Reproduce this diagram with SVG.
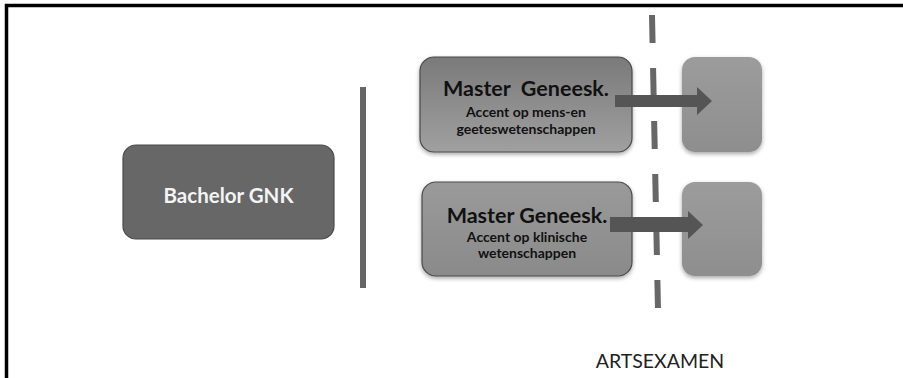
<svg xmlns="http://www.w3.org/2000/svg" width="903" height="378" viewBox="0 0 903 378">
<defs>
<linearGradient id="g1" x1="0" y1="0" x2="0" y2="1">
<stop offset="0" stop-color="#7a7a7a"/>
<stop offset="1" stop-color="#a0a0a0"/>
</linearGradient>
<linearGradient id="g2" x1="0" y1="0" x2="0" y2="1">
<stop offset="0" stop-color="#9a9a9a"/>
<stop offset="1" stop-color="#8a8a8a"/>
</linearGradient>
<linearGradient id="g3" x1="0" y1="0" x2="0" y2="1">
<stop offset="0" stop-color="#9c9c9c"/>
<stop offset="1" stop-color="#8e8e8e"/>
</linearGradient>
<filter id="sh" x="-10%" y="-10%" width="120%" height="130%">
<feGaussianBlur in="SourceAlpha" stdDeviation="2"/>
<feOffset dy="2"/>
<feComponentTransfer><feFuncA type="linear" slope="0.35"/></feComponentTransfer>
<feMerge><feMergeNode/><feMergeNode in="SourceGraphic"/></feMerge>
</filter>
</defs>
<style>
.t{font-family:Lato,"Open Sans","Liberation Sans",sans-serif;font-weight:bold;text-anchor:middle}
.big{font-size:21.5px;fill:#111}
.sm{font-size:14px;fill:#111}
.box{stroke:#4a4a4a;stroke-width:1.2}
.arrow{fill:#555}
</style>
<rect x="0" y="0" width="903" height="378" fill="#fff"/>
<path d="M6.5,378 V5.5 H903" fill="none" stroke="#000" stroke-width="3.5"/>

<g id="divider">
<line x1="363" y1="87" x2="363" y2="288" stroke="#666" stroke-width="6"/>
</g>

<g id="bachelor">
<rect class="box" x="123" y="145" width="211" height="94" rx="13" fill="#676767"/>
<text class="t" x="228.5" y="203" font-size="20.5" fill="#f4f4f4">Bachelor GNK</text>
</g>

<g id="master1">
<rect class="box" x="420" y="57" width="212" height="95" rx="14" fill="url(#g1)" filter="url(#sh)"/>
<text class="t big" x="526" y="96" xml:space="preserve">Master  Geneesk.</text>
<text class="t sm" x="526" y="117">Accent op mens-en</text>
<text class="t sm" x="526" y="134">geeteswetenschappen</text>
</g>

<g id="master2">
<rect class="box" x="422" y="182" width="210" height="94" rx="14" fill="url(#g2)" filter="url(#sh)"/>
<text class="t big" x="527" y="223">Master Geneesk.</text>
<text class="t sm" x="527" y="242">Accent op klinische</text>
<text class="t sm" x="527" y="258">wetenschappen</text>
</g>

<g id="box1">
<rect x="682" y="57" width="80" height="95" rx="13" fill="url(#g3)" filter="url(#sh)"/>
</g>
<g id="box2">
<rect x="682" y="182" width="80" height="94" rx="13" fill="url(#g3)" filter="url(#sh)"/>
</g>

<g id="connectors">
<line x1="652" y1="15" x2="658" y2="310" stroke="#676767" stroke-width="6" stroke-dasharray="28 25"/>
<polygon class="arrow" points="615,95 697,95 697,87 712,101 697,115 697,107 615,107"/>
<polygon class="arrow" points="610,217 688,217 688,211 703,225 688,239 688,232 610,232"/>
</g>

<g id="artsexamen">
<text x="660" y="368" font-family="Lato,'Open Sans','Liberation Sans',sans-serif" font-size="19.5" fill="#222" text-anchor="middle">ARTSEXAMEN</text>
</g>
</svg>
